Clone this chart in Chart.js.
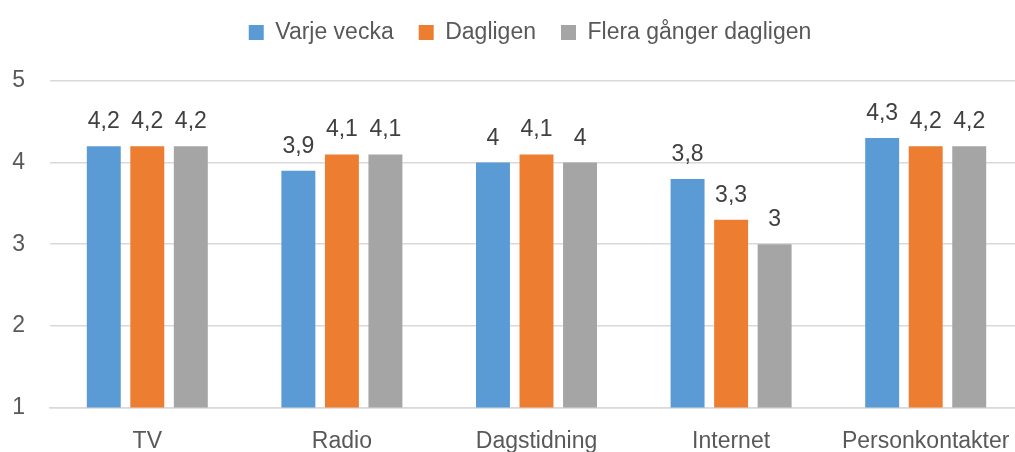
<!DOCTYPE html>
<html lang="sv">
<head>
<meta charset="utf-8">
<title>Medier</title>
<script src="https://cdn.jsdelivr.net/npm/chart.js@4/dist/chart.umd.min.js"></script>
<style>
  html, body { margin: 0; padding: 0; background: #fff; overflow: hidden; }
  #wrap { position: relative; width: 1023px; height: 467px; }
</style>
</head>
<body>
<div id="wrap"><canvas id="mediaChart"></canvas></div>
<script>
const categories = ["TV", "Radio", "Dagstidning", "Internet", "Personkontakter"];
const seriesNames = ["Varje vecka", "Dagligen", "Flera gånger dagligen"];
const varjeVecka = [4.2, 3.9, 4.0, 3.8, 4.3];
const dagligen = [4.2, 4.1, 4.1, 3.3, 4.2];
const fleraGanger = [4.2, 4.1, 4.0, 3.0, 4.2];
const yMin = 1;
const yMax = 5;

const colors = ["#5B9BD5", "#ED7D31", "#A5A5A5"];
const textColor = "#595959";
const valueColor = "#404040";
const fontFamily = "'Liberation Sans', Arial, sans-serif";

// värden över staplarna, med decimalkomma
const barValueLabels = {
  id: "barValueLabels",
  afterDatasetsDraw(chart) {
    const ctx = chart.ctx;
    ctx.save();
    ctx.font = "23px " + fontFamily;
    ctx.fillStyle = valueColor;
    ctx.textAlign = "center";
    ctx.textBaseline = "alphabetic";
    chart.data.datasets.forEach((ds, i) => {
      chart.getDatasetMeta(i).data.forEach((bar, j) => {
        const txt = String(ds.data[j]).replace(".", ",");
        ctx.fillText(txt, bar.x, bar.y - 18);
      });
    });
    ctx.restore();
  }
};

// luft under förklaringen, och förklaringen lite till höger
const legendPlacement = {
  id: "legendPlacement",
  beforeInit(chart) {
    const fit = chart.legend.fit;
    chart.legend.fit = function () {
      fit.call(this);
      this.height += 27;
    };
  },
  afterLayout(chart) {
    chart.legend.left += 37;
  }
};

const ctx = document.getElementById("mediaChart");

new Chart(ctx, {
  type: "bar",
  data: {
    labels: categories,
    datasets: [varjeVecka, dagligen, fleraGanger].map((d, i) => ({
      label: seriesNames[i],
      data: d,
      backgroundColor: colors[i],
      categoryPercentage: 0.671,
      barPercentage: 0.78
    }))
  },
  options: {
    responsive: true,
    maintainAspectRatio: false,
    animation: false,
    layout: {
      padding: { left: 0, top: -4, right: 0, bottom: 0 }
    },
    plugins: {
      legend: {
        position: "top",
        labels: {
          boxWidth: 15,
          boxHeight: 15,
          padding: 25,
          color: textColor,
          font: { family: fontFamily, size: 23 }
        }
      },
      tooltip: { enabled: false }
    },
    scales: {
      x: {
        grid: { display: false },
        border: { color: "#d9d9d9", width: 1.5 },
        ticks: {
          color: textColor,
          padding: 12,
          font: { family: fontFamily, size: 23 }
        }
      },
      y: {
        min: yMin,
        max: yMax,
        afterFit(scale) { scale.width = 50; },
        grid: { color: "#d9d9d9", lineWidth: 1.5, drawTicks: false },
        border: { display: false },
        ticks: {
          stepSize: 1,
          color: textColor,
          padding: 25,
          font: { family: fontFamily, size: 23 }
        }
      }
    }
  },
  plugins: [barValueLabels, legendPlacement]
});
</script>
</body>
</html>
